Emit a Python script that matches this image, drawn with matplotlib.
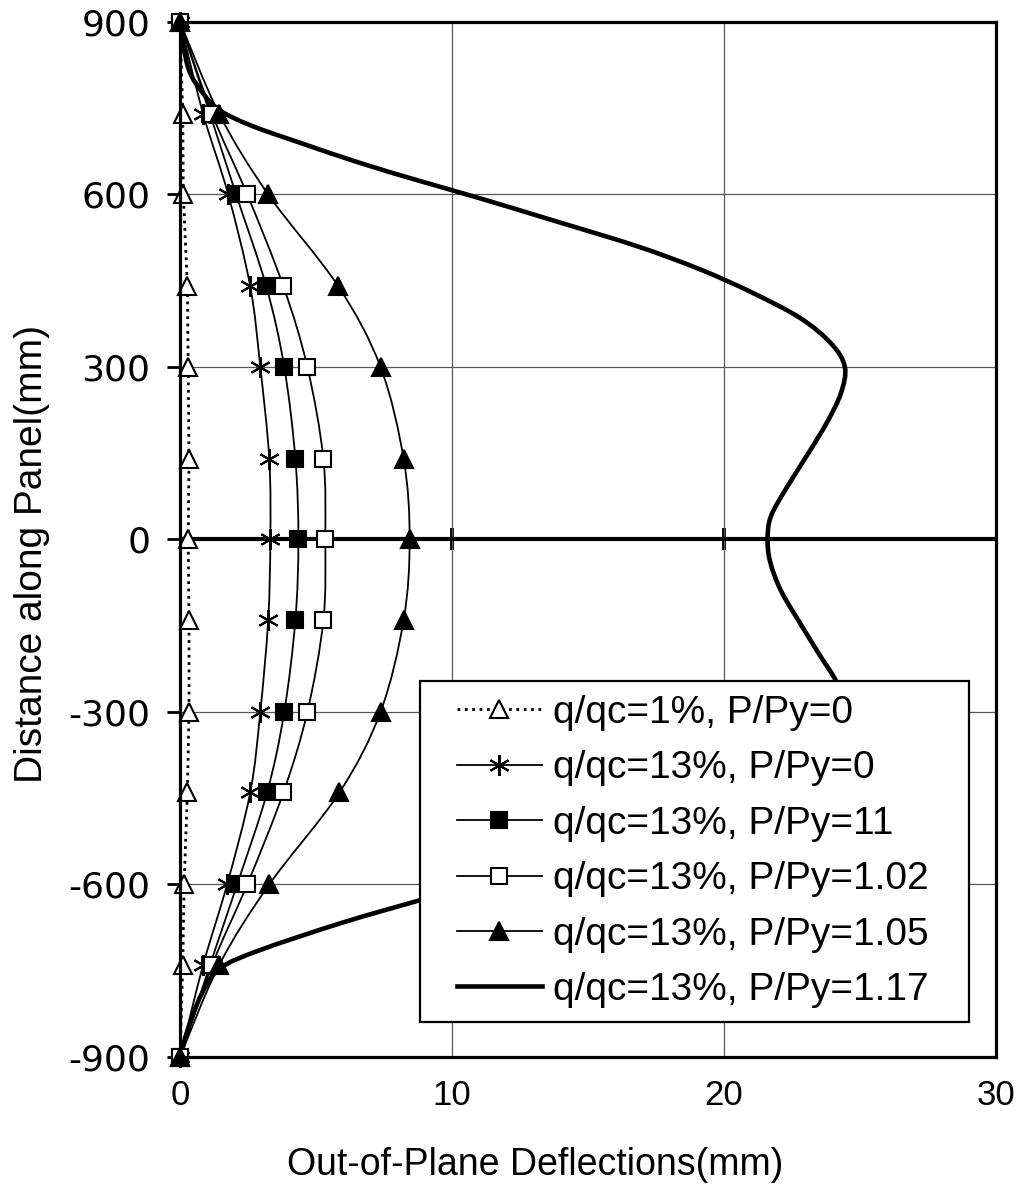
import numpy as np
import matplotlib
matplotlib.use("Agg")
import matplotlib.pyplot as plt
from matplotlib.path import Path
from matplotlib.patches import PathPatch
from matplotlib.lines import Line2D
from matplotlib.legend_handler import HandlerLine2D

plt.rcParams['font.family'] = ['Liberation Sans', 'DejaVu Sans']
plt.rcParams['axes.unicode_minus'] = False

# ---------------- data ----------------
y_nodes = [900, 740, 600, 440, 300, 140, 0, -140, -300, -440, -600, -740, -900]

defl_q1_p0 = [0, 0.10, 0.12, 0.27, 0.30, 0.33, 0.30, 0.33, 0.33, 0.27, 0.15, 0.10, 0]
defl_q13_p0 = [0, 0.85, 1.77, 2.58, 2.95, 3.28, 3.32, 3.24, 2.95, 2.58, 1.73, 0.85, 0]
defl_q13_p11 = [0, 1.10, 2.06, 3.17, 3.83, 4.24, 4.35, 4.24, 3.83, 3.20, 2.10, 1.10, 0]
defl_q13_p102 = [0, 1.18, 2.47, 3.80, 4.68, 5.27, 5.34, 5.27, 4.68, 3.80, 2.47, 1.18, 0]
defl_q13_p105 = [0, 1.44, 3.24, 5.82, 7.37, 8.22, 8.44, 8.22, 7.37, 5.86, 3.28, 1.44, 0]

# series without markers (P/Py = 1.17)
y_p117 = [900, 820, 775, 746, 720, 690, 655, 625, 595, 555, 510, 470, 430,
          385, 340, 300, 255, 205, 150, 90, 40, 0, -40, -90, -150, -200, -250,
          -300, -380, -455, -530, -590, -627, -666, -714, -746, -790, -850, -900]
defl_p117 = [0, 0.30, 0.86, 1.47, 2.60, 4.40, 6.60, 8.70, 10.90, 13.70, 16.80, 19.10, 21.00,
             22.80, 23.95, 24.44, 24.30, 23.80, 23.10, 22.30, 21.72, 21.60, 21.70, 22.10,
             22.85, 23.50, 24.15, 24.40, 23.20, 20.30, 15.80, 11.60, 8.85, 6.00, 2.95,
             1.47, 0.80, 0.30, 0]

labels = ["q/qc=1%, P/Py=0", "q/qc=13%, P/Py=0", "q/qc=13%, P/Py=11",
          "q/qc=13%, P/Py=1.02", "q/qc=13%, P/Py=1.05", "q/qc=13%, P/Py=1.17"]

x_ticks = [0, 10, 20, 30]
y_ticks = [-900, -600, -300, 0, 300, 600, 900]


def smooth_path(xs, ys):
    """Catmull-Rom style smoothed path (like a spreadsheet's smoothed line)."""
    p = np.column_stack([xs, ys]).astype(float)
    n = len(p)
    verts = [p[0]]
    codes = [Path.MOVETO]
    for i in range(n - 1):
        p0 = p[i - 1] if i > 0 else p[i]
        p1 = p[i]
        p2 = p[i + 1]
        p3 = p[i + 2] if i + 2 < n else p[i + 1]
        c1 = p1 + (p2 - p0) / 6.0
        c2 = p2 - (p3 - p1) / 6.0
        verts += [c1, c2, p2]
        codes += [Path.CURVE4] * 3
    return Path(np.array(verts), codes)


fig = plt.figure(figsize=(10.23, 11.92), dpi=100)
ax = fig.add_axes([0.176, 0.1133, 0.7977, 0.8683])
ax.set_xlim(0, 30)
ax.set_ylim(-900, 900)

# grid
ax.set_xticks(x_ticks)
ax.set_yticks(y_ticks)
ax.grid(True, color='0.35', lw=0.9, zorder=0)
ax.set_axisbelow(True)

series = [
    dict(x=defl_q1_p0, ls=':', lw=2.0, marker='^', ms=13, mfc='white', smooth=False),
    dict(x=defl_q13_p0, ls='-', lw=1.3, marker=(6, 2, 0), ms=15, mfc='black', smooth=True),
    dict(x=defl_q13_p11, ls='-', lw=1.3, marker='s', ms=11.5, mfc='black', smooth=True),
    dict(x=defl_q13_p102, ls='-', lw=1.3, marker='s', ms=11.5, mfc='white', smooth=True),
    dict(x=defl_q13_p105, ls='-', lw=1.3, marker='^', ms=13, mfc='black', smooth=True),
]

# horizontal axis line at y = 0
ax.axhline(0, color='black', lw=3.0, zorder=2)

handles = []
for s, lab in zip(series, labels[:5]):
    if s['smooth']:
        patch = PathPatch(smooth_path(s['x'], y_nodes), fill=False, ec='black',
                          lw=s['lw'], ls=s['ls'], zorder=3)
        ax.add_patch(patch)
    else:
        ax.plot(s['x'], y_nodes, color='black', ls=s['ls'], lw=s['lw'], zorder=3)
    ax.plot(s['x'], y_nodes, ls='none', marker=s['marker'], ms=s['ms'], mfc=s['mfc'],
            mec='black', mew=1.5, zorder=5, clip_on=False)
    handles.append(Line2D([], [], color='black', ls=s['ls'], lw=s['lw'],
                          marker=s['marker'], ms=s['ms'], mfc=s['mfc'], mec='black',
                          mew=1.5))

ax.add_patch(PathPatch(smooth_path(defl_p117, y_p117), fill=False, ec='black',
                       lw=3.3, zorder=4, capstyle='round', joinstyle='round'))
handles.append(Line2D([], [], color='black', ls='-', lw=3.3))

# frame
for sp in ax.spines.values():
    sp.set_linewidth(2.3)
    sp.set_zorder(6)

# y axis ticks
ax.tick_params(axis='y', direction='out', length=9.5, width=2.0, pad=12,
               labelsize=26)
for t in ax.get_yticklabels():
    t.set_fontfamily('DejaVu Sans')
ax.tick_params(axis='x', length=0, pad=16, labelsize=25)

# crossing tick marks on the y = 0 axis line
sec = ax.secondary_xaxis(0.5)
sec.set_xticks([10, 20])
sec.tick_params(direction='inout', length=16, width=2.8, labelbottom=False,
                labeltop=False)
for sp in sec.spines.values():
    sp.set_visible(False)

ax.set_xlabel("Out-of-Plane Deflections(mm)", fontsize=27, va='top')
ax.xaxis.set_label_coords(0.435, -0.087)
ax.set_ylabel("Distance along Panel(mm)", fontsize=28)
ax.yaxis.set_label_coords(-0.159, 0.486)

leg = ax.legend(handles, labels, loc='upper left',
                bbox_to_anchor=(0.294, 0.034, 0.673, 0.329), mode='expand',
                fontsize=28, frameon=True, fancybox=False, edgecolor='black',
                framealpha=1, borderpad=0.35, labelspacing=0.5,
                handlelength=2.8, handletextpad=0.26, borderaxespad=0,
                handler_map={Line2D: HandlerLine2D(xpad=0.59)})
leg.get_frame().set_linewidth(1.6)
leg.set_zorder(7)

fig.savefig("out.png", dpi=100)
